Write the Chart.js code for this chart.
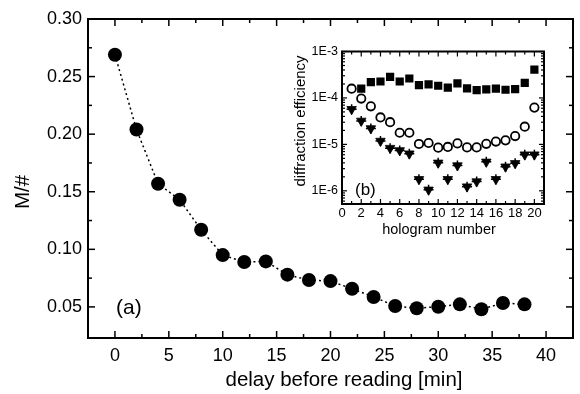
<!DOCTYPE html>
<html>
<head>
<meta charset="utf-8">
<script src="https://cdn.jsdelivr.net/npm/chart.js@4/dist/chart.umd.min.js"></script>
<style>
  html, body { margin: 0; padding: 0; background: #fff; }
  #wrap { position: relative; width: 580px; height: 394px; }
  #main { position: absolute; left: 0; top: 0; }
  #inset { position: absolute; left: 290px; top: 40px; }
</style>
</head>
<body>
<div id="wrap">
  <canvas id="main" width="580" height="394"></canvas>
  <canvas id="inset" width="265" height="205"></canvas>
</div>
<script>
// Main panel (a): M/# vs delay
const delay = [0, 2, 4, 6, 8, 10, 12, 14, 16, 18, 20, 22, 24, 26, 28, 30, 32, 34, 36, 38];
const mNumber = [0.269, 0.204, 0.157, 0.143, 0.117, 0.095, 0.089, 0.0895, 0.078, 0.0733,
                 0.0724, 0.0658, 0.0586, 0.0508, 0.0488, 0.0502, 0.0522, 0.0479, 0.0534, 0.0522];
const mainXTicks = [0, 5, 10, 15, 20, 25, 30, 35, 40];
const mainYTicks = [0.05, 0.10, 0.15, 0.20, 0.25, 0.30];

// Inset (b): diffraction efficiency vs hologram number
const hologram = [1, 2, 3, 4, 5, 6, 7, 8, 9, 10, 11, 12, 13, 14, 15, 16, 17, 18, 19, 20];
const effSquares = [null, 1.58e-4, 2.19e-4, 2.26e-4, 2.84e-4, 2.26e-4, 2.62e-4, 1.89e-4, 1.96e-4, 1.83e-4,
                    1.66e-4, 2.05e-4, 1.61e-4, 1.48e-4, 1.53e-4, 1.58e-4, 1.50e-4, 1.55e-4, 2.12e-4, 4.07e-4];
const effCircles = [1.58e-4, 9.7e-5, 6.6e-5, 3.8e-5, 3.0e-5, 1.78e-5, 1.78e-5, 1.02e-5, 1.07e-5, 8.5e-6,
                    8.8e-6, 1.05e-5, 8.6e-6, 8.6e-6, 1.03e-5, 1.15e-5, 1.22e-5, 1.51e-5, 2.4e-5, 6.2e-5];
const effTriangles = [5.7e-5, 3.2e-5, 2.2e-5, 1.18e-5, 8.3e-6, 7.4e-6, 6.3e-6, 1.77e-6, 1.05e-6, 4.0e-6,
                      1.77e-6, 3.5e-6, 1.23e-6, 1.58e-6, 4.2e-6, 1.77e-6, 3.3e-6, 3.9e-6, 6.0e-6, 6.0e-6];
const insetXTicks = [0, 2, 4, 6, 8, 10, 12, 14, 16, 18, 20];
const insetYTicks = [1e-6, 1e-5, 1e-4, 1e-3];

const FONT = '"Liberation Sans", Arial, Helvetica, sans-serif';
Chart.defaults.font.family = FONT;
Chart.defaults.color = '#000';

function toPoints(xs, ys) {
    return xs.map((x, i) => ({ x: x, y: ys[i] }));
}

// Frame with inward ticks on all four sides, axis titles and the panel letter
const frameTicks = {
    id: 'frameTicks',
    afterDraw(chart, args, opts) {
        const ctx = chart.ctx;
        const a = chart.chartArea;
        const xs = chart.scales.x;
        const ys = chart.scales.y;

        function line(x1, y1, x2, y2) {
            ctx.beginPath();
            ctx.moveTo(x1, y1);
            ctx.lineTo(x2, y2);
            ctx.stroke();
        }
        function xTick(v, len) {
            const px = xs.getPixelForValue(v);
            if (px < a.left - 0.5 || px > a.right + 0.5) return;
            line(px, a.bottom, px, a.bottom - len);
            line(px, a.top, px, a.top + len);
        }
        function yTick(v, len) {
            const py = ys.getPixelForValue(v);
            if (py < a.top - 0.5 || py > a.bottom + 0.5) return;
            line(a.left, py, a.left + len, py);
            line(a.right, py, a.right - len, py);
        }

        ctx.save();
        ctx.strokeStyle = '#000';
        ctx.lineWidth = opts.tickWidth;

        opts.xMajor.forEach(v => xTick(v, opts.majorLen));
        for (let i = 0; i < opts.xMajor.length - 1; i++) {
            xTick((opts.xMajor[i] + opts.xMajor[i + 1]) / 2, opts.minorLen);
        }
        opts.yMajor.forEach(v => yTick(v, opts.majorLen));
        if (opts.logY) {
            opts.yMajor.concat([opts.yMajor[0] / 10]).forEach(d => {
                for (let k = 2; k <= 9; k++) yTick(d * k, opts.minorLen);
            });
        } else {
            for (let i = 0; i < opts.yMajor.length - 1; i++) {
                yTick((opts.yMajor[i] + opts.yMajor[i + 1]) / 2, opts.minorLen);
            }
        }

        ctx.lineWidth = opts.frameWidth;
        ctx.strokeRect(a.left, a.top, a.right - a.left, a.bottom - a.top);

        ctx.fillStyle = '#000';
        ctx.textBaseline = 'middle';
        ctx.textAlign = 'center';
        ctx.font = opts.xTitleSize + 'px ' + FONT;
        ctx.fillText(opts.xTitle, opts.xTitleX, opts.xTitleY);

        ctx.save();
        ctx.translate(opts.yTitleX, opts.yTitleY);
        ctx.rotate(-Math.PI / 2);
        ctx.font = opts.yTitleSize + 'px ' + FONT;
        ctx.fillText(opts.yTitle, 0, 0);
        ctx.restore();

        // panel label
        ctx.font = opts.labelSize + 'px ' + FONT;
        ctx.textAlign = 'left';
        ctx.fillText(opts.label, a.left + opts.labelDx, a.bottom - opts.labelDy);
        ctx.restore();
    }
};

// Main chart
new Chart(document.getElementById('main'), {
    type: 'line',
    data: {
        datasets: [{
            data: toPoints(delay, mNumber),
            borderColor: '#000',
            borderWidth: 1.5,
            borderDash: [2, 3],
            tension: 0,
            fill: false,
            pointStyle: 'circle',
            pointRadius: 7,
            pointBackgroundColor: '#000',
            pointBorderColor: '#000',
            pointBorderWidth: 0
        }]
    },
    options: {
        responsive: false,
        animation: false,
        layout: { padding: { top: 19, right: 5, left: 0, bottom: 0 } },
        plugins: {
            legend: { display: false },
            tooltip: { enabled: false },
            frameTicks: {
                xMajor: mainXTicks, yMajor: mainYTicks, logY: false,
                majorLen: 7, minorLen: 4, tickWidth: 1.5, frameWidth: 2,
                xTitle: 'delay before reading [min]', xTitleSize: 20.5, xTitleX: 344, xTitleY: 380,
                yTitle: 'M/#', yTitleSize: 20.5, yTitleX: 23, yTitleY: 192,
                label: '(a)', labelSize: 21, labelDx: 28, labelDy: 30
            }
        },
        scales: {
            x: {
                type: 'linear',
                min: -2.5,
                max: 42.5,
                afterBuildTicks: s => { s.ticks = mainXTicks.map(v => ({ value: v })); },
                afterFit: s => { s.height = 56; },
                grid: { display: false, drawTicks: false },
                border: { display: false },
                ticks: {
                    font: { size: 18 },
                    padding: 7,
                    maxRotation: 0,
                    autoSkip: false,
                    callback: v => String(v)
                }
            },
            y: {
                type: 'linear',
                min: 0.023,
                max: 0.30,
                afterBuildTicks: s => { s.ticks = mainYTicks.map(v => ({ value: v })); },
                afterFit: s => { s.width = 88; },
                grid: { display: false, drawTicks: false },
                border: { display: false },
                ticks: {
                    font: { size: 18 },
                    padding: 6,
                    autoSkip: false,
                    callback: v => Number(v).toFixed(2)
                }
            }
        }
    },
    plugins: [frameTicks]
});

// Inset chart
new Chart(document.getElementById('inset'), {
    type: 'scatter',
    data: {
        datasets: [
            {
                data: toPoints(hologram, effSquares),
                pointStyle: 'rect',
                pointRadius: 5.8,
                pointBackgroundColor: '#000',
                pointBorderColor: '#000',
                pointBorderWidth: 0
            },
            {
                data: toPoints(hologram, effCircles),
                pointStyle: 'circle',
                pointRadius: 4.2,
                pointBackgroundColor: 'rgba(255,255,255,0)',
                pointBorderColor: '#000',
                pointBorderWidth: 1.8
            },
            {
                data: toPoints(hologram, effTriangles),
                pointStyle: 'triangle',
                pointRotation: 180,
                pointRadius: 5.5,
                pointBackgroundColor: '#000',
                pointBorderColor: '#000',
                pointBorderWidth: 0.8
            },
            {
                data: toPoints(hologram, effTriangles),
                pointStyle: 'cross',
                pointRadius: 5,
                pointBorderColor: '#000',
                pointBorderWidth: 1.5
            }
        ]
    },
    options: {
        responsive: false,
        animation: false,
        layout: { padding: { top: 11, right: 11, left: 0, bottom: 0 } },
        plugins: {
            legend: { display: false },
            tooltip: { enabled: false },
            frameTicks: {
                xMajor: insetXTicks, yMajor: insetYTicks, logY: true,
                majorLen: 5, minorLen: 3, tickWidth: 1.2, frameWidth: 2,
                xTitle: 'hologram number', xTitleSize: 14.5, xTitleX: 149, xTitleY: 190,
                yTitle: 'diffraction efficiency', yTitleSize: 15, yTitleX: 11, yTitleY: 81,
                label: '(b)', labelSize: 17, labelDx: 13, labelDy: 14
            }
        },
        scales: {
            x: {
                type: 'linear',
                min: 0,
                max: 21,
                afterBuildTicks: s => { s.ticks = insetXTicks.map(v => ({ value: v })); },
                afterFit: s => { s.height = 41; },
                grid: { display: false, drawTicks: false },
                border: { display: false },
                ticks: {
                    font: { size: 13 },
                    padding: 2,
                    maxRotation: 0,
                    autoSkip: false,
                    callback: v => String(v)
                }
            },
            y: {
                type: 'logarithmic',
                min: 5.2e-7,
                max: 1e-3,
                afterBuildTicks: s => { s.ticks = insetYTicks.map(v => ({ value: v })); },
                afterFit: s => { s.width = 52; },
                grid: { display: false, drawTicks: false },
                border: { display: false },
                ticks: {
                    font: { size: 12.5 },
                    padding: 4,
                    autoSkip: false,
                    callback: v => '1E' + Math.round(Math.log10(v))
                }
            }
        }
    },
    plugins: [frameTicks]
});
</script>
</body>
</html>
